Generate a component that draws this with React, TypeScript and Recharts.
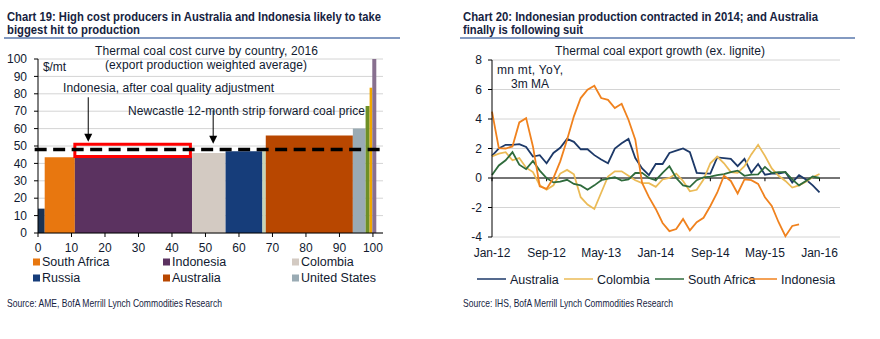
import React from 'react';
import {
  ComposedChart,
  LineChart,
  Line,
  Area,
  XAxis,
  YAxis,
  CartesianGrid,
  ReferenceLine,
  ReferenceArea,
  ReferenceDot,
} from 'recharts';

const FONT = '"Liberation Sans", Arial, sans-serif';
const NARROW = '"Liberation Sans Narrow", "Liberation Sans", Arial, sans-serif';
const TEXT = '#111a30';
const TITLE = '#16233f';

// ---------- Chart 19 data (cost curve) ----------
const segNames = ['Other', 'South Africa', 'Indonesia', 'Colombia', 'Russia', 'Other', 'Australia', 'United States', 'Other', 'Other', 'Other'];
const segStart = [0, 2, 11, 46, 56, 67, 68, 94, 97.8, 99, 99.8];
const segEnd = [2, 11, 46, 56, 67, 68, 94, 97.8, 99, 99.8, 101];
const segCost = [14, 43.5, 44, 46, 47, 49, 56, 60, 73, 83.5, 100];
const segColors = ['#1b3352', '#e8770f', '#5b3260', '#d3cac2', '#163d7a', '#c6d5b6', '#b84700', '#9aabb4', '#6e8f26', '#f0a800', '#88708f'];
const newcastlePrice = 48;
const costTicks = [0, 10, 20, 30, 40, 50, 60, 70, 80, 90, 100];
const legend19 = ['South Africa', 'Indonesia', 'Colombia', 'Russia', 'Australia', 'United States'];
const legend19Colors = ['#e8770f', '#5b3260', '#d3cac2', '#163d7a', '#b84700', '#9aabb4'];
const qualityBox = { x1: 11, x2: 45.5, y1: 44, y2: 51 };
const arrowX = [15, 52.3];
const arrowTop = [78, 70.5];
const arrowTip = [52.5, 51.3];

// ---------- Chart 20 data (export growth, monthly Jan-12 .. Jan-16) ----------
const australia = [1.5, 2.0, 2.25, 2.25, 2.3, 2.1, 1.45, 1.55, 1.0, 1.7, 2.05, 2.65, 2.45, 1.95, 1.95, 1.55, 1.25, 1.0, 2.0, 2.35, 2.65, 1.35, 0.65, 0.2, 0.95, 0.95, 1.7, 1.85, 2.0, 1.75, 0.35, 0.32, 0.3, 1.4, 1.35, 1.3, 0.8, 1.3, 0.35, 0.95, 0.22, 0.3, 0.3, 0.4, -0.3, 0.2, -0.1, -0.5, -0.97];
const colombia = [1.47, 1.65, 1.75, 1.2, 1.35, 0.7, 0.4, -0.5, -0.8, -0.5, 0.3, 0.55, 0.25, -1.3, -1.8, -2.1, -1.0, 0.1, 0.45, 0.45, 0.15, -0.15, -0.35, -0.35, -0.6, -0.1, 0.0, 0.3, -0.2, -0.9, -0.8, -0.1, 1.0, 1.45, 1.0, 0.4, 0.35, 0.8, 1.6, 2.25, 1.5, 0.65, 0.15, -0.2, -0.65, -0.5, -0.25, 0.05, 0.27];
const southAfrica = [0.2, 0.85, 1.2, 1.75, 0.9, 0.6, 1.15, 0.5, 0.0, -0.3, -0.25, -0.12, -0.4, -0.5, -0.8, -0.5, -0.15, -0.05, 0.05, -0.18, -0.1, 0.34, 0.35, 0.0, -0.15, 0.35, 0.8, 0.0, -0.5, -0.6, -0.15, 0.05, 0.1, 0.2, 0.27, 0.4, 0.5, 0.15, 0.23, 0.25, 0.75, 0.35, 0.4, 0.4, -0.1, -0.5, -0.2, 0.1, 0.0];
const indonesia = [4.5, 2.03, 2.0, 2.14, 3.77, 4.06, 2.14, -0.56, -0.74, 0.0, 1.13, 2.6, 4.18, 5.42, 5.98, 6.25, 5.42, 5.3, 4.74, 5.03, 3.95, 2.6, -0.34, -1.3, -2.1, -3.05, -3.6, -3.46, -2.78, -3.55, -3.0, -2.7, -1.9, -1.0, 0.15, -0.2, -1.05, -0.1, -0.15, -0.4, -1.3, -1.9, -3.0, -3.95, -3.25, -3.15];
const monthTicks = [0, 8, 16, 24, 32, 40, 48];
const monthLabels = ['Jan-12', 'Sep-12', 'May-13', 'Jan-14', 'Sep-14', 'May-15', 'Jan-16'];
const growthTicks = [-4, -2, 0, 2, 4, 6, 8];
const seriesNames = ['Australia', 'Colombia', 'South Africa', 'Indonesia'];
const seriesColors = ['#1d3968', '#ebbb57', '#2f6b3c', '#f0821e'];

const growthData = australia.map((a, i) => ({
  m: i,
  aus: a,
  col: colombia[i],
  sa: southAfrica[i],
  ind: i < indonesia.length ? indonesia[i] : null,
}));

const ArrowHead = (props: any) => {
  const { cx, cy } = props;
  return <polygon points={`${cx - 4},${cy - 8} ${cx + 4},${cy - 8} ${cx},${cy}`} fill="#000" />;
};

const tickStyle = { fontSize: 12, fill: TEXT, fontFamily: FONT };

function T(p: any) {
  const sx = p.sx || 1;
  return (
    <text
      transform={`translate(${p.x},${p.y}) scale(${sx},1)`}
      x={0}
      y={0}
      textLength={p.w / sx}
      lengthAdjust={p.adj || 'spacingAndGlyphs'}
      fontSize={p.size || 12}
      fontWeight={p.bold ? 700 : 400}
      fill={p.color || TEXT}
      fontFamily={p.font || FONT}
    >
      {p.children}
    </text>
  );
}

export default function App() {
  return (
    <div style={{ position: 'absolute', left: 0, top: 0, width: 880, height: 339, background: '#fff', fontFamily: FONT }}>
      {/* Chart 19 */}
      <div style={{ position: 'absolute', left: 0, top: 0 }}>
        <ComposedChart width={440} height={339} margin={{ top: 59, right: 57, bottom: 86, left: 0 }}>
          <CartesianGrid horizontal vertical={false} stroke="#d4d4d4" />
          <XAxis
            type="number"
            dataKey="x"
            domain={[0, 103]}
            ticks={costTicks}
            interval={0}
            allowDataOverflow
            height={20}
            tick={tickStyle}
            tickSize={4}
            tickMargin={6}
            axisLine={{ stroke: '#000' }}
            tickLine={{ stroke: '#000' }}
          />
          <YAxis
            type="number"
            domain={[0, 100]}
            ticks={costTicks}
            interval={0}
            width={38}
            tick={tickStyle}
            tickSize={4}
            tickMargin={7}
            axisLine={{ stroke: '#000' }}
            tickLine={{ stroke: '#000' }}
          />
          {segCost.map((c, i) => (
            <Area
              key={'seg' + i}
              name={segNames[i]}
              data={[{ x: segStart[i], y: c }, { x: segEnd[i], y: c }]}
              dataKey="y"
              type="linear"
              stroke="none"
              fill={segColors[i]}
              fillOpacity={1}
              baseValue={0}
              isAnimationActive={false}
              dot={false}
              activeDot={false}
            />
          ))}
          <ReferenceArea
            x1={qualityBox.x1}
            x2={qualityBox.x2}
            y1={qualityBox.y1}
            y2={qualityBox.y2}
            fill="none"
            fillOpacity={0}
            stroke="#ff0000"
            strokeWidth={3}
            ifOverflow="visible"
          />
          <ReferenceLine
            segment={[{ x: -1, y: newcastlePrice }, { x: 103.5, y: newcastlePrice }]}
            stroke="#000"
            strokeWidth={3.5}
            strokeDasharray="12 6.5"
            ifOverflow="visible"
          />
          {arrowX.map((ax, i) => (
            <ReferenceLine
              key={'ar' + i}
              segment={[{ x: ax, y: arrowTop[i] }, { x: ax, y: arrowTip[i] + 3 }]}
              stroke="#000"
              strokeWidth={1}
              ifOverflow="visible"
            />
          ))}
          {arrowX.map((ax, i) => (
            <ReferenceDot key={'ah' + i} x={ax} y={arrowTip[i]} r={4} shape={ArrowHead} ifOverflow="visible" />
          ))}
        </ComposedChart>
      </div>

      {/* Chart 20 */}
      <div style={{ position: 'absolute', left: 440, top: 0 }}>
        <LineChart width={440} height={339} data={growthData} margin={{ top: 60, right: 40, bottom: 82, left: 0 }}>
          <CartesianGrid horizontal vertical={false} stroke="#d4d4d4" />
          <XAxis
            type="number"
            dataKey="m"
            domain={[0, 51]}
            ticks={monthTicks}
            interval={0}
            tickFormatter={(v: number) => monthLabels[monthTicks.indexOf(v)] || ''}
            height={20}
            tick={tickStyle}
            tickSize={0}
            tickMargin={11}
            axisLine={false}
            tickLine={false}
          />
          <YAxis
            type="number"
            domain={[-4, 8]}
            ticks={growthTicks}
            interval={0}
            width={52}
            tick={tickStyle}
            tickSize={4}
            tickMargin={6}
            axisLine={{ stroke: '#000' }}
            tickLine={{ stroke: '#000' }}
          />
          <ReferenceLine y={0} stroke="#000" strokeWidth={1.2} />
          {monthTicks.map((t) => (
            <ReferenceLine key={'mt' + t} segment={[{ x: t, y: 0 }, { x: t, y: -0.22 }]} stroke="#000" strokeWidth={1} />
          ))}
          <Line dataKey="aus" name="Australia" stroke={seriesColors[0]} strokeWidth={1.8} dot={false} isAnimationActive={false} />
          <Line dataKey="col" name="Colombia" stroke={seriesColors[1]} strokeWidth={1.8} dot={false} isAnimationActive={false} />
          <Line dataKey="sa" name="South Africa" stroke={seriesColors[2]} strokeWidth={1.8} dot={false} isAnimationActive={false} />
          <Line dataKey="ind" name="Indonesia" stroke={seriesColors[3]} strokeWidth={1.8} dot={false} isAnimationActive={false} />
        </LineChart>
      </div>

      {/* Titles, annotations, legends, sources */}
      <svg width={880} height={339} style={{ position: 'absolute', left: 0, top: 0, pointerEvents: 'none' }}>
        <T x={7} y={20.5} w={374} sx={0.72} size={13.5} bold color={TITLE} font={NARROW}>Chart 19: High cost producers in Australia and Indonesia likely to take</T>
        <T x={7} y={34} w={133} sx={0.72} size={13.5} bold color={TITLE} font={NARROW}>biggest hit to production</T>
        <line x1={4} x2={400} y1={38} y2={38} stroke="#5a78ac" strokeWidth={1.5} />
        <T x={463} y={20.5} w={355} sx={0.72} size={13.5} bold color={TITLE} font={NARROW}>Chart 20: Indonesian production contracted in 2014; and Australia</T>
        <T x={463} y={34} w={120} sx={0.72} size={13.5} bold color={TITLE} font={NARROW}>finally is following suit</T>
        <line x1={460} x2={855} y1={38} y2={38} stroke="#5a78ac" strokeWidth={1.5} />

        <T x={95} y={55} w={223} adj="spacing">Thermal coal cost curve by country, 2016</T>
        <T x={105} y={69} w={202} adj="spacing">(export production weighted average)</T>
        <T x={43} y={71} w={23} adj="spacing">$/mt</T>
        <T x={63} y={92} w={211} adj="spacing">Indonesia, after coal quality adjustment</T>
        <T x={128} y={115} w={237} adj="spacing">Newcastle 12-month strip forward coal price</T>

        <T x={555} y={55} w={210} adj="spacing">Thermal coal export growth (ex. lignite)</T>
        <T x={497} y={74} w={66} adj="spacing">mn mt, YoY,</T>
        <T x={511} y={87.5} w={38} adj="spacing">3m MA</T>

        {legend19.map((name, i) => {
          const col = i % 3;
          const row = Math.floor(i / 3);
          const x = [33, 163, 292][col];
          const y = [266, 282][row];
          return (
            <g key={'lg' + i}>
              <rect x={x} y={y - 7.5} width={7} height={7} fill={legend19Colors[i]} />
              <text x={x + 9} y={y} fontSize={12.5} fill={TEXT} fontFamily={FONT}>{name}</text>
            </g>
          );
        })}

        {seriesNames.map((name, i) => {
          const x = [477, 564, 655, 748][i];
          return (
            <g key={'lr' + i}>
              <line x1={x} x2={x + 29} y1={279} y2={279} stroke={seriesColors[i]} strokeWidth={1.5} />
              <text x={x + 33} y={283.5} fontSize={12.5} fill={TEXT} fontFamily={FONT}>{name}</text>
            </g>
          );
        })}

        <T x={7} y={306.5} w={215} sx={0.8} size={10} color={TITLE} font={NARROW}>Source: AME, BofA Merrill Lynch Commodities Research</T>
        <T x={463} y={306.5} w={210} sx={0.8} size={10} color={TITLE} font={NARROW}>Source: IHS, BofA Merrill Lynch Commodities Research</T>
      </svg>
    </div>
  );
}
